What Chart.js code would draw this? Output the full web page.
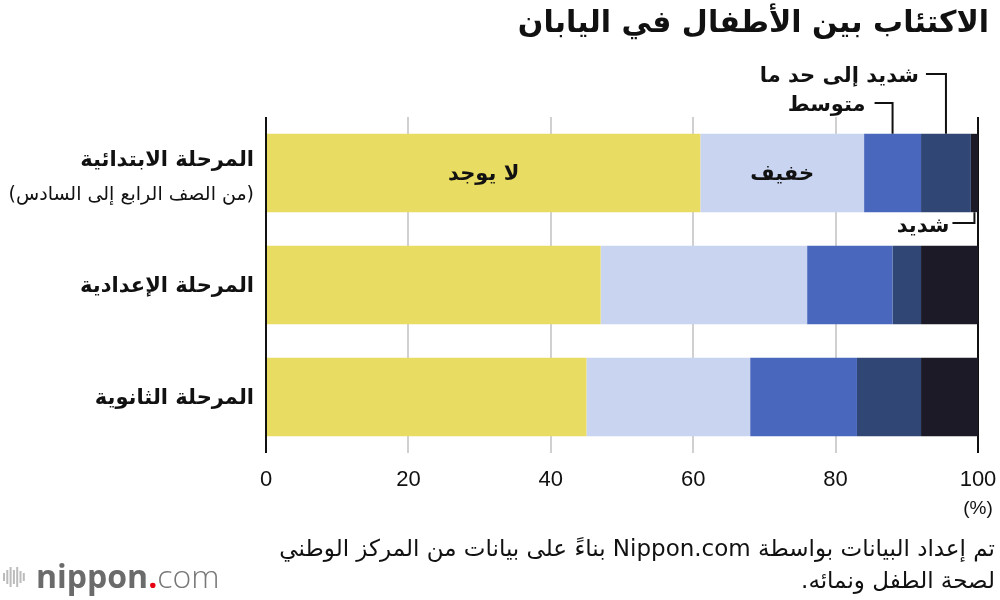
<!DOCTYPE html>
<html lang="ar">
<head>
<meta charset="UTF-8">
<title>الاكتئاب بين الأطفال في اليابان</title>
<script src="https://cdn.jsdelivr.net/npm/chart.js"></script>
<style>
  html, body { margin: 0; padding: 0; background: #fff; }
  canvas { display: block; }
</style>
</head>
<body>
<canvas id="chart" width="1000" height="600"></canvas>
<script>
// الفئات (المراحل الدراسية)
const categories = [
  ["المرحلة الابتدائية", "(من الصف الرابع إلى السادس)"],
  ["المرحلة الإعدادية"],
  ["المرحلة الثانوية"]
];
// أسماء الفئات (درجة الاكتئاب)
const seriesNames = ["لا يوجد", "خفيف", "متوسط", "شديد إلى حد ما", "شديد"];
const seriesColors = ["#e9dc62", "#c9d4f1", "#4967bd", "#304674", "#1c1a26"];

// القيم بالنسبة المئوية
const noneVals      = [61, 47, 45];
const mildVals      = [23, 29, 23];
const moderateVals  = [8, 12, 15];
const modSevereVals = [7, 4, 9];
const severeVals    = [1, 8, 8];

const xTicks = [0, 20, 40, 60, 80, 100];
const titleText = "الاكتئاب بين الأطفال في اليابان";
const sourceLines = [
  "تم إعداد البيانات بواسطة Nippon.com بناءً على بيانات من المركز الوطني",
  "لصحة الطفل ونمائه."
];

const AR = '"DejaVu Sans", sans-serif';
const LAT = '"Liberation Sans", Arial, sans-serif';

const allVals = [noneVals, mildVals, moderateVals, modSevereVals, severeVals];

function line(ctx, pts) {
  ctx.beginPath();
  ctx.moveTo(pts[0][0], pts[0][1]);
  for (let i = 1; i < pts.length; i++) ctx.lineTo(pts[i][0], pts[i][1]);
  ctx.stroke();
}

const textPlugin = {
  id: "texts",
  afterDraw(chart) {
    const ctx = chart.ctx;
    const yScale = chart.scales.y;
    ctx.save();
    ctx.fillStyle = "#111";
    ctx.direction = "rtl";

    // العنوان
    ctx.font = "bold 30px " + AR;
    ctx.textAlign = "right";
    ctx.textBaseline = "middle";
    ctx.fillText(titleText, 989, 24);

    // تسميات الفئات
    categories.forEach((lab, i) => {
      const y = yScale.getPixelForValue(i);
      if (lab.length === 1) {
        ctx.font = "bold 21px " + AR;
        ctx.fillText(lab[0], 254, y + 2);
      } else {
        ctx.font = "bold 21px " + AR;
        ctx.fillText(lab[0], 254, y - 12);
        ctx.font = "19px " + AR;
        ctx.fillText(lab[1], 254, y + 22);
      }
    });

    // تسميات داخل الأعمدة
    ctx.textAlign = "center";
    ctx.font = "bold 21px " + AR;
    [0, 1].forEach(d => {
      const bar = chart.getDatasetMeta(d).data[0];
      ctx.fillText(seriesNames[d], (bar.x + bar.base) / 2, bar.y + 2);
    });

    // خطوط الإشارة
    ctx.strokeStyle = "#111";
    ctx.lineWidth = 2;
    ctx.textAlign = "right";
    const mod = chart.getDatasetMeta(2).data[0];
    const mods = chart.getDatasetMeta(3).data[0];
    const sev = chart.getDatasetMeta(4).data[0];
    const top = mod.y - mod.height / 2;
    const bottom = sev.y + sev.height / 2;

    let mx = (mod.x + mod.base) / 2;
    line(ctx, [[mx - 18, 103], [mx, 103], [mx, top]]);
    ctx.fillText(seriesNames[2], mx - 27, 106);

    mx = (mods.x + mods.base) / 2;
    line(ctx, [[mx - 20, 74], [mx, 74], [mx, top]]);
    ctx.fillText(seriesNames[3], mx - 27, 77);

    mx = (sev.x + sev.base) / 2;
    line(ctx, [[mx, bottom], [mx, 223], [mx - 22, 223]]);
    ctx.fillText(seriesNames[4], mx - 25, 227);

    // وحدة المحور
    ctx.direction = "ltr";
    ctx.textAlign = "center";
    ctx.font = "19px " + LAT;
    ctx.fillText("(%)", chart.scales.x.getPixelForValue(100), 509);

    // المصدر
    ctx.direction = "rtl";
    ctx.textAlign = "right";
    ctx.font = "23px " + AR;
    ctx.fillText(sourceLines[0], 995, 550);
    ctx.fillText(sourceLines[1], 995, 582);

    // الشعار
    ctx.direction = "ltr";
    ctx.strokeStyle = "#bbb";
    ctx.lineWidth = 2;
    const hs = [8, 14, 20, 14, 20, 12, 8];
    hs.forEach((h, i) => {
      const x = 4 + i * 3.3;
      line(ctx, [[x, 577 - h / 2], [x, 577 + h / 2]]);
    });
    ctx.textAlign = "left";
    ctx.textBaseline = "alphabetic";
    ctx.font = "bold 32px \"Open Sans\", sans-serif";
    ctx.fillStyle = "#6b6b6b";
    ctx.fillText("nippon", 36, 588);
    let w = ctx.measureText("nippon").width;
    ctx.fillStyle = "#e60012";
    ctx.fillText(".", 36 + w, 588);
    w += ctx.measureText(".").width;
    ctx.font = "300 32px \"Open Sans\", sans-serif";
    ctx.fillStyle = "#777";
    ctx.fillText("com", 36 + w, 588);

    ctx.restore();
  }
};

new Chart(document.getElementById("chart"), {
  type: "bar",
  data: {
    labels: categories,
    datasets: seriesNames.map((name, i) => ({
      label: name,
      data: allVals[i],
      backgroundColor: seriesColors[i],
      borderWidth: 0,
      barPercentage: 0.7,
      categoryPercentage: 1
    }))
  },
  options: {
    indexAxis: "y",
    responsive: false,
    animation: false,
    layout: { padding: { left: 266, right: 22, top: 117, bottom: 103 } },
    plugins: { legend: { display: false }, tooltip: { enabled: false } },
    scales: {
      x: {
        stacked: true,
        min: 0,
        max: 100,
        afterBuildTicks: s => { s.ticks = xTicks.map(v => ({ value: v })); },
        afterFit: s => { s.height = 44; s.paddingLeft = 0; s.paddingRight = 0; },
        grid: {
          color: c => (c.tick && (c.tick.value === 0 || c.tick.value === 100)) ? "#111" : "#d0d0d0",
          lineWidth: 2,
          drawTicks: false
        },
        border: { display: false },
        ticks: { font: { family: LAT, size: 22 }, color: "#111", padding: 14 }
      },
      y: {
        stacked: true,
        display: false
      }
    }
  },
  plugins: [textPlugin]
});
</script>
</body>
</html>
